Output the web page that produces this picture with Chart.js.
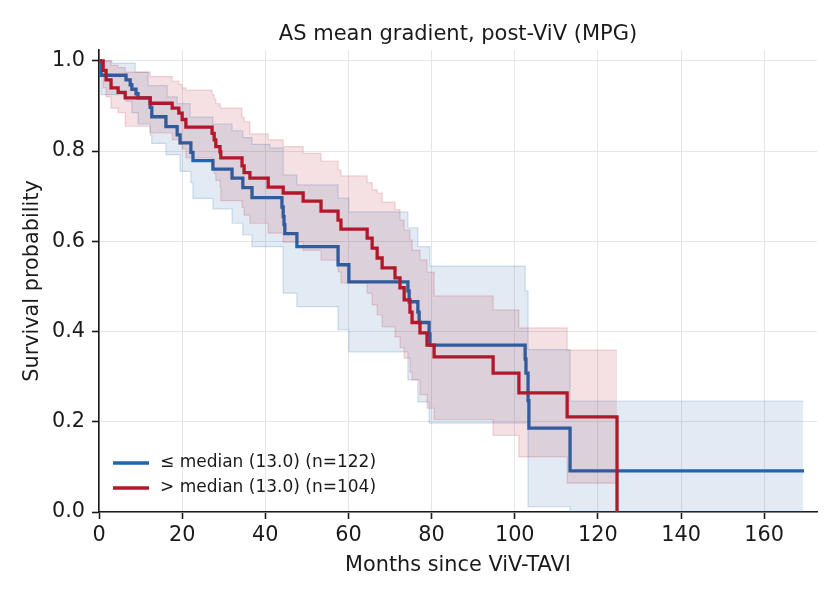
<!DOCTYPE html>
<html>
<head>
<meta charset="utf-8">
<script src="https://cdn.jsdelivr.net/npm/chart.js@4.4.1/dist/chart.umd.min.js"></script>
<style>
  html, body { margin: 0; padding: 0; background: #fff; }
  #wrap { width: 840px; height: 600px; }
</style>
</head>
<body>
<div id="wrap"><canvas id="km" width="840" height="600"></canvas></div>
<script>
// Kaplan-Meier estimates (months, survival)
const blueLabel = '≤ median (13.0) (n=122)'
const redLabel  = '> median (13.0) (n=104)'

const blueT = [0, 0.5, 6.5, 7.5, 7.9, 8.9, 9.4, 12.3, 12.7, 16.1, 18.8, 19.5, 22.1, 22.6, 27.4, 32.0, 34.6, 36.8, 44.0, 44.3,
               44.5, 44.7, 47.6, 57.5, 60.1, 74.3, 74.6, 76.7, 77.0, 79.4, 79.6, 102.5, 102.7, 103.2, 103.4, 113.3, 169.6]
const blueS = [1.0, 0.968, 0.958, 0.947, 0.937, 0.927, 0.918, 0.897, 0.876, 0.854, 0.836, 0.818, 0.797, 0.779, 0.760, 0.740, 0.719, 0.697, 0.676, 0.655,
               0.637, 0.617, 0.588, 0.548, 0.51, 0.49, 0.466, 0.443, 0.42, 0.395, 0.37, 0.339, 0.308, 0.247, 0.186, 0.091, 0.091]

// 95% band, blue group
const blueBandT = [0, 0.5, 3.1, 6.5, 7.9, 8.7, 9.4, 11.8, 12.3, 12.7, 16.1, 16.4, 18.8, 19.5, 21.9, 22.1, 22.6, 27.4, 32.0, 34.6,
                   36.8, 41.1, 44.3, 47.6, 57.5, 60.1, 74.3, 76.7, 79.4, 79.6, 102.5, 103.2, 113.3, 169.4]
const blueHi = [1.0, 1.0, 0.995, 0.995, 0.995, 0.975, 0.975, 0.945, 0.945, 0.945, 0.945, 0.92, 0.905, 0.905, 0.875, 0.875, 0.875, 0.86, 0.845, 0.83,
                0.815, 0.807, 0.747, 0.725, 0.696, 0.665, 0.63, 0.588, 0.588, 0.545, 0.49, 0.36, 0.246, 0.246]
const blueLo = [1.0, 0.925, 0.925, 0.91, 0.885, 0.885, 0.86, 0.86, 0.835, 0.817, 0.792, 0.792, 0.792, 0.755, 0.755, 0.73, 0.695, 0.672, 0.64, 0.614,
                0.588, 0.588, 0.485, 0.455, 0.404, 0.355, 0.293, 0.244, 0.197, 0.197, 0.197, 0.012, 0.0, 0.0]

const redT = [0, 1.0, 1.7, 2.9, 4.6, 6.3, 12.3, 17.6, 19.2, 20.0, 20.9, 27.2, 27.7, 28.1, 29.1, 29.3, 34.4, 34.9, 36.3, 40.7,
              44.3, 49.1, 53.4, 57.5, 58.2, 64.5, 65.7, 66.9, 68.1, 71.2, 72.4, 73.4, 74.8, 75.3, 77.2, 78.9, 80.6, 94.8, 101.0, 112.6, 124.6]
const redS = [1.0, 0.979, 0.958, 0.94, 0.93, 0.918, 0.906, 0.895, 0.884, 0.870, 0.853, 0.839, 0.825, 0.81, 0.798, 0.785, 0.767, 0.752, 0.74, 0.72,
              0.707, 0.689, 0.667, 0.647, 0.627, 0.607, 0.585, 0.563, 0.541, 0.519, 0.497, 0.47, 0.443, 0.42, 0.397, 0.37, 0.344, 0.308, 0.264, 0.211, 0.0]
// band shares redT; last point just closes the band at the final time
const redHi = [1.0, 1.0, 1.0, 0.99, 0.985, 0.975, 0.965, 0.955, 0.948, 0.94, 0.935, 0.925, 0.915, 0.905, 0.9, 0.895, 0.875, 0.865, 0.838, 0.825,
               0.81, 0.795, 0.778, 0.758, 0.745, 0.73, 0.714, 0.707, 0.687, 0.67, 0.647, 0.625, 0.603, 0.58, 0.559, 0.532, 0.479, 0.448, 0.408, 0.359, 0.359]
const redLo = [1.0, 0.94, 0.92, 0.895, 0.885, 0.855, 0.84, 0.825, 0.815, 0.805, 0.785, 0.765, 0.75, 0.735, 0.72, 0.69, 0.675, 0.658, 0.64, 0.618,
               0.598, 0.58, 0.558, 0.532, 0.508, 0.485, 0.459, 0.437, 0.41, 0.388, 0.364, 0.341, 0.31, 0.293, 0.26, 0.23, 0.205, 0.17, 0.122, 0.064, 0.064]

const xTicks = [0, 20, 40, 60, 80, 100, 120, 140, 160]
const yTicks = [0.0, 0.2, 0.4, 0.6, 0.8, 1.0]

const BLUE = '#2166ac'
const RED  = '#b2182b'
const INK  = '#1a1a1a'
const FONT = 'DejaVu Sans'

Chart.defaults.font.family = FONT
Chart.defaults.color = INK

const pts = (ts, ys) => ts.map((t, i) => ({ x: t, y: ys[i] }))

// title centred over the plot area
const titlePlugin = {
  id: 'plotTitle',
  afterDraw(chart) {
    const { ctx, chartArea } = chart
    ctx.save()
    ctx.font = `21px "${FONT}"`
    ctx.fillStyle = INK
    ctx.textAlign = 'center'
    ctx.textBaseline = 'alphabetic'
    ctx.fillText('AS mean gradient, post-ViV (MPG)', (chartArea.left + chartArea.right) / 2, 40)
    ctx.restore()
  }
}

// frameless legend in the lower-left corner
const legendPlugin = {
  id: 'kmLegend',
  afterDatasetsDraw(chart) {
    const { ctx, chartArea } = chart
    const items = chart.data.datasets.filter(d => d.isCurve)
    ctx.save()
    ctx.font = `17px "${FONT}"`
    ctx.textBaseline = 'middle'
    ctx.textAlign = 'left'
    items.forEach((d, i) => {
      const y = chartArea.bottom - 49 + i * 25
      const x0 = chartArea.left + 14
      ctx.strokeStyle = d.borderColor
      ctx.lineWidth = 3.3
      ctx.beginPath()
      ctx.moveTo(x0, y)
      ctx.lineTo(x0 + 36, y)
      ctx.stroke()
      ctx.fillStyle = INK
      ctx.fillText(d.label, x0 + 47, y)
    })
    ctx.restore()
  }
}

const lineDefaults = { stepped: true, pointRadius: 0, tension: 0 }

new Chart(document.getElementById('km'), {
  type: 'line',
  data: {
    datasets: [
      { ...lineDefaults, label: 'blue upper', data: pts(blueBandT, blueHi), borderColor: 'rgba(33,102,172,0.2)', borderWidth: 1.2, fill: false, order: 5 },
      { ...lineDefaults, label: 'blue lower', data: pts(blueBandT, blueLo), borderColor: 'rgba(33,102,172,0.2)', borderWidth: 1.2,
        fill: '-1', backgroundColor: 'rgba(33,102,172,0.13)', order: 4 },
      { ...lineDefaults, label: blueLabel, isCurve: true, data: pts(blueT, blueS), borderColor: BLUE, borderWidth: 3.3, fill: false, order: 3 },
      { ...lineDefaults, label: 'red upper', data: pts(redT, redHi), borderColor: 'rgba(178,24,43,0.17)', borderWidth: 1.2, fill: false, order: 2 },
      { ...lineDefaults, label: 'red lower', data: pts(redT, redLo), borderColor: 'rgba(178,24,43,0.17)', borderWidth: 1.2,
        fill: '-1', backgroundColor: 'rgba(178,24,43,0.13)', order: 1 },
      { ...lineDefaults, label: redLabel, isCurve: true, data: pts(redT, redS), borderColor: RED, borderWidth: 3.3, fill: false, order: 0 },
    ],
  },
  options: {
    responsive: false,
    animation: false,
    layout: { padding: { left: 0, right: 23, top: 50, bottom: 0 } },
    plugins: {
      legend: { display: false },
      tooltip: { enabled: false },
      title: { display: false },
    },
    scales: {
      x: {
        type: 'linear',
        min: 0,
        max: 172.7,
        afterBuildTicks: s => { s.ticks = xTicks.map(v => ({ value: v })) },
        afterFit: s => { s.height = 88 },
        grid: { color: '#e6e6e6', lineWidth: 1, tickLength: 7, tickColor: INK, tickWidth: 1.6 },
        border: { display: true, color: INK, width: 1.6 },
        ticks: { font: { size: 20.8 }, color: INK, padding: 4, maxRotation: 0, autoSkip: false },
        title: { display: true, text: 'Months since ViV-TAVI', font: { size: 20.8 }, color: INK, padding: { top: 0, bottom: 22 } },
      },
      y: {
        type: 'linear',
        min: 0,
        max: 1.024,
        afterBuildTicks: s => { s.ticks = yTicks.map(v => ({ value: v })) },
        afterFit: s => { s.width = 99 },
        grid: { color: '#e6e6e6', lineWidth: 1, tickLength: 7, tickColor: INK, tickWidth: 1.6 },
        border: { display: true, color: INK, width: 1.6 },
        ticks: { font: { size: 20.8 }, color: INK, padding: 7, callback: v => Number(v).toFixed(1) },
        title: { display: true, text: 'Survival probability', font: { size: 20.8 }, color: INK, padding: { top: 20, bottom: 0 } },
      },
    },
  },
  plugins: [titlePlugin, legendPlugin],
})
</script>
</body>
</html>
